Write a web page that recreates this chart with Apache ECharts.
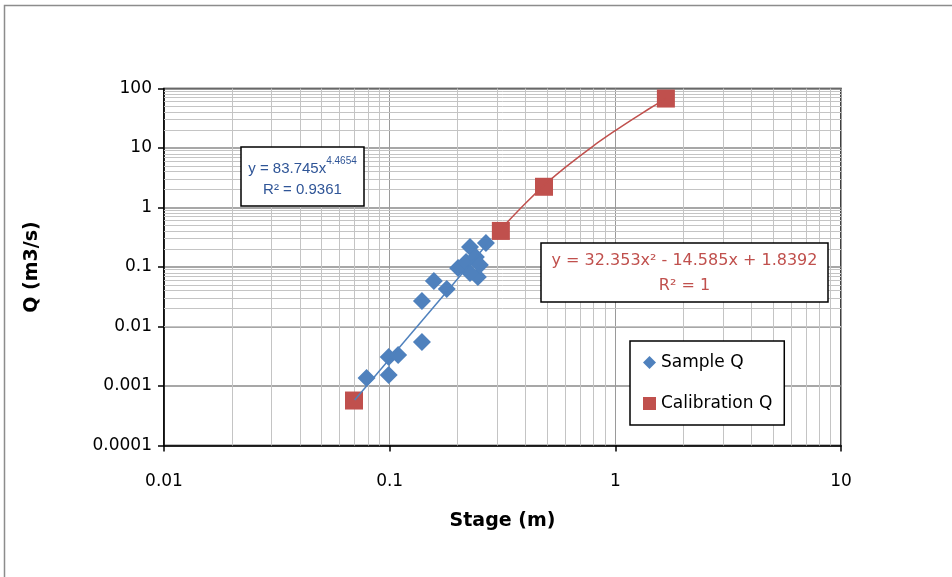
<!DOCTYPE html>
<html>
<head>
<meta charset="utf-8">
<script src="https://cdn.jsdelivr.net/npm/echarts@6/dist/echarts.min.js"></script>
<style>
html,body{margin:0;padding:0;background:#fff;}
#chart{width:952px;height:577px;}
</style>
</head>
<body>
<div id="chart"></div>
<script>
// ---- data ----
var sampleStage = [0.079, 0.099, 0.099, 0.109, 0.139, 0.139, 0.157, 0.179, 0.201, 0.218, 0.227, 0.241, 0.246, 0.267, 0.227, 0.251];
var sampleQ     = [0.00136, 0.00153, 0.00307, 0.00332, 0.00548, 0.0268, 0.0582, 0.0427, 0.0962, 0.121, 0.217, 0.147, 0.0679, 0.253, 0.0793, 0.108];
var calStage = [0.0695, 0.311, 0.483, 1.675];
var calQ     = [0.00057, 0.404, 2.23, 67.8];
// trendlines
var sampleTrendStage = [0.07, 0.27];
var sampleTrendQ     = [0.00058, 0.242];
var calTrendStage = [0.31, 0.4, 0.5, 0.6, 0.8, 1.0, 1.2, 1.4, 1.675];
var calTrendQ     = [0.43, 1.18, 2.64, 4.74, 10.9, 19.6, 30.9, 44.8, 68.0];
// axis ticks
var xTickValues = [0.01, 0.1, 1, 10];
var xTickLabels = ['0.01', '0.1', '1', '10'];
var yTickValues = [0.0001, 0.001, 0.01, 0.1, 1, 10, 100];
var yTickLabels = ['0.0001', '0.001', '0.01', '0.1', '1', '10', '100'];
var seriesNames = ['Sample Q', 'Calibration Q'];
var xTitle = 'Stage (m)';
var yTitle = 'Q (m3/s)';
var sampleEq = ['y = 83.745x', '4.4654', 'R² = 0.9361'];
var calEq = ['y = 32.353x² - 14.585x + 1.8392', 'R² = 1'];

function zip(a, b) { return a.map(function (v, i) { return [v, b[i]]; }); }
function labelFor(values, labels) {
  return function (v) {
    var best = 0, bd = Infinity;
    for (var i = 0; i < values.length; i++) {
      var d = Math.abs(Math.log10(v) - Math.log10(values[i]));
      if (d < bd) { bd = d; best = i; }
    }
    return labels[best];
  };
}
// minor log gridlines at 2..9 of every decade
function minorLines(majors) {
  var out = [];
  for (var i = 0; i < majors.length - 1; i++) {
    for (var k = 2; k <= 9; k++) out.push(majors[i] * k);
  }
  return out;
}
var xMinor = minorLines(xTickValues);
var yMinor = minorLines(yTickValues);

var FONT = 'DejaVu Sans';
var EQFONT = 'Liberation Sans';
var blue = '#4f81bd', red = '#c0504d', eqBlue = '#2f5597';

var chart = echarts.init(document.getElementById('chart'), null, {renderer: 'canvas'});
var option = {
  animation: false,
  backgroundColor: '#fff',
  textStyle: {fontFamily: FONT},
  grid: {
    left: 164, right: 111, top: 88.5, bottom: 131.5,
    show: true, borderColor: '#000', borderWidth: 1.5, backgroundColor: '#fff'
  },
  xAxis: {
    type: 'log', logBase: 10, min: 0.01, max: 10, interval: 1, splitNumber: 3,
    name: xTitle, nameLocation: 'middle', nameGap: 66,
    nameTextStyle: {fontFamily: FONT, fontSize: 19, fontWeight: 'bold', color: '#000'},
    axisLine: {show: true, lineStyle: {color: '#000', width: 1.5}},
    axisTick: {show: true, inside: false, length: 6, lineStyle: {color: '#000', width: 1.5}},
    axisLabel: {fontFamily: FONT, fontSize: 17, color: '#000', margin: 28,
      formatter: labelFor(xTickValues, xTickLabels)},
    splitLine: {show: true, lineStyle: {color: '#9a9a9a', width: 1}}
  },
  yAxis: {
    type: 'log', logBase: 10, min: 0.0001, max: 100, interval: 1, splitNumber: 6,
    name: yTitle, nameLocation: 'middle', nameGap: 122, nameRotate: 90,
    nameTextStyle: {fontFamily: FONT, fontSize: 19, fontWeight: 'bold', color: '#000'},
    axisLine: {show: true, lineStyle: {color: '#000', width: 1.5}},
    axisTick: {show: true, inside: false, length: 6, lineStyle: {color: '#000', width: 1.5}},
    axisLabel: {fontFamily: FONT, fontSize: 17, color: '#000', margin: 12,
      formatter: labelFor(yTickValues, yTickLabels)},
    splitLine: {show: true, lineStyle: {color: '#8a8a8a', width: 1.5}}
  },
  legend: {
    data: [{name: seriesNames[0], icon: 'diamond'}, {name: seriesNames[1], icon: 'rect'}],
    orient: 'vertical', left: 630, top: 341, z: 20,
    itemWidth: 13, itemHeight: 13, itemGap: 24, itemStyle: {borderWidth: 0},
    padding: [13, 12, 13, 13],
    backgroundColor: '#fff', borderColor: '#000', borderWidth: 1.5,
    textStyle: {fontFamily: FONT, fontSize: 17, color: '#000'},
    selectedMode: false
  },
  series: [
    {
      name: 'minor-grid', type: 'line', data: [], z: 1, silent: true,
      markLine: {
        z: 1, silent: true, symbol: ['none', 'none'], animation: false,
        label: {show: false},
        lineStyle: {color: '#c4c4c4', width: 1, type: 'solid'},
        emphasis: {disabled: true},
        data: xMinor.map(function (v) { return {xAxis: v}; })
          .concat(yMinor.map(function (v) { return {yAxis: v}; }))
      }
    },
    {
      name: seriesNames[0], type: 'scatter', z: 3,
      symbol: 'diamond', symbolSize: 18,
      itemStyle: {color: blue, opacity: 1},
      data: zip(sampleStage, sampleQ)
    },
    {
      name: seriesNames[1], type: 'scatter', z: 3,
      symbol: 'rect', symbolSize: 18,
      itemStyle: {color: red, opacity: 1},
      data: zip(calStage, calQ)
    },
    {
      name: 'sample-trend', type: 'line', z: 4, silent: true,
      showSymbol: false, symbol: 'none',
      lineStyle: {color: blue, width: 1.5},
      data: zip(sampleTrendStage, sampleTrendQ)
    },
    {
      name: 'cal-trend', type: 'line', z: 4, silent: true,
      showSymbol: false, symbol: 'none', smooth: 0.3,
      lineStyle: {color: red, width: 1.5},
      data: zip(calTrendStage, calTrendQ)
    }
  ],
  graphic: [
    {
      type: 'rect', z: 0, silent: true,
      shape: {x: 4.5, y: 5.5, width: 1000, height: 1000},
      style: {fill: 'none', stroke: '#8c8c8c', lineWidth: 1.5}
    },
    {type: 'rect', z: 100, silent: true, shape: {x: 241, y: 147, width: 123, height: 59},
      style: {fill: '#fff', stroke: '#000', lineWidth: 1.5}},
    {type: 'text', z: 101, silent: true, x: 302.5, y: 166,
      style: {
        text: '{a|' + sampleEq[0] + '}{s|' + sampleEq[1] + '}',
        rich: {
          a: {fontFamily: EQFONT, fontSize: 15, fill: eqBlue, lineHeight: 20, verticalAlign: 'bottom'},
          s: {fontFamily: EQFONT, fontSize: 10, fill: eqBlue, lineHeight: 20, verticalAlign: 'top', padding: [0, 0, 6, 0]}
        },
        align: 'center', verticalAlign: 'middle'
      }},
    {type: 'text', z: 101, silent: true, x: 302.5, y: 190,
      style: {text: sampleEq[2], fontFamily: EQFONT, fontSize: 15, fill: eqBlue,
        align: 'center', verticalAlign: 'middle'}},
    {type: 'rect', z: 100, silent: true, shape: {x: 541, y: 243, width: 287, height: 59},
      style: {fill: '#fff', stroke: '#000', lineWidth: 1.5}},
    {type: 'text', z: 101, silent: true, x: 684.5, y: 261,
      style: {text: calEq[0], fontFamily: FONT, fontSize: 16, fill: red,
        align: 'center', verticalAlign: 'middle'}},
    {type: 'text', z: 101, silent: true, x: 684.5, y: 286,
      style: {text: calEq[1], fontFamily: FONT, fontSize: 16, fill: red,
        align: 'center', verticalAlign: 'middle'}}
  ]
};
chart.setOption(option);
</script>
</body>
</html>
